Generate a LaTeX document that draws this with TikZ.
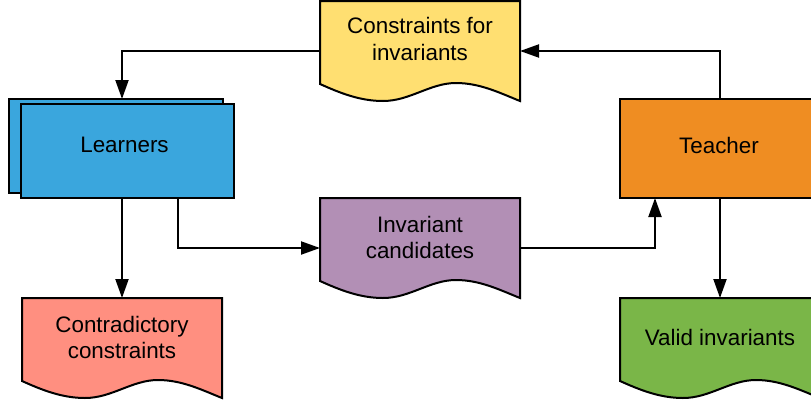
\documentclass[tikz,border=0pt]{standalone}
\usepackage{fontspec}
\setmainfont{Liberation Sans}
\usetikzlibrary{arrows.meta,calc}
\definecolor{cyel}{HTML}{FFDF71}
\definecolor{cblue}{HTML}{3AA6DD}
\definecolor{corange}{HTML}{EF8D22}
\definecolor{cgreen}{HTML}{7AB648}
\definecolor{cred}{HTML}{FF8F80}
\definecolor{cpurple}{HTML}{B28FB5}
\tikzset{
  box/.style={draw=black, line width=2pt, inner sep=0pt, outer sep=0pt},
  doc/.style={minimum width=200pt, minimum height=100pt, inner sep=0pt, outer sep=0pt},
  lbl/.style={font=\fontsize{22.4}{26.5}\selectfont, align=center, text=black, inner sep=0pt},
  arr/.style={line width=2pt, -{Triangle[length=19pt,width=13pt]}},
}
\newcommand{\docpath}[2]{%
  \begin{scope}[shift={(#1.north west)}]
    \draw[line width=2pt, fill=#2, line join=miter]
      (0,0) -- (200,0) -- (200,100)
      .. controls (180,92) and (160,82) .. (136,82)
      .. controls (110,82) and (90,100) .. (63,100)
      .. controls (40,100) and (20,92) .. (0,83) -- cycle;
  \end{scope}}
\begin{document}
\begin{tikzpicture}[x=1pt,y=-1pt]
  \useasboundingbox (0,0) rectangle (811,402);
  \clip (0,0) rectangle (811,402);
  % document nodes
  \node[doc] (cons) at (420,51) {};
  \node[doc] (inv) at (420,248) {};
  \node[doc] (contra) at (122,348) {};
  \node[doc] (valid) at (720,348) {};
  \docpath{cons}{cyel}
  \docpath{inv}{cpurple}
  \docpath{contra}{cred}
  \docpath{valid}{cgreen}
  \node[lbl] (cons-t) at (420,39) {Constraints for\\invariants};
  \node[lbl] (inv-t) at (420,237.5) {Invariant\\candidates};
  \node[lbl] (contra-t) at (122,337.5) {Contradictory\\constraints};
  \node[lbl] (valid-t) at (720,337.5) {Valid invariants};
  % learners
  \node[box, fill=cblue, minimum width=214pt, minimum height=94pt] (lback) at (116,146) {};
  \node[box, fill=cblue, minimum width=213pt, minimum height=94pt] (lfront) at (127.5,151) {};
  \node[lbl] (learn-t) at (124.5,145) {Learners};
  % teacher
  \node[box, fill=corange, minimum width=200pt, minimum height=99pt] (teacher) at (720,148.5) {};
  \node[lbl] (teach-t) at (719,145) {Teacher};
  % connectors
  \draw[arr] (cons.west) -| ([xshift=6pt]lback.north);
  \draw[arr] (teacher.north) |- (cons.east);
  \draw[arr] (lfront.south -| contra.north) -- (contra.north);
  \draw[arr] ([xshift=-56pt]lfront.south east) |- (inv.west);
  \draw[arr] (inv.east) -| ([xshift=35pt]teacher.south west);
  \draw[arr] (teacher.south) -- (valid.north);
\end{tikzpicture}
\end{document}
